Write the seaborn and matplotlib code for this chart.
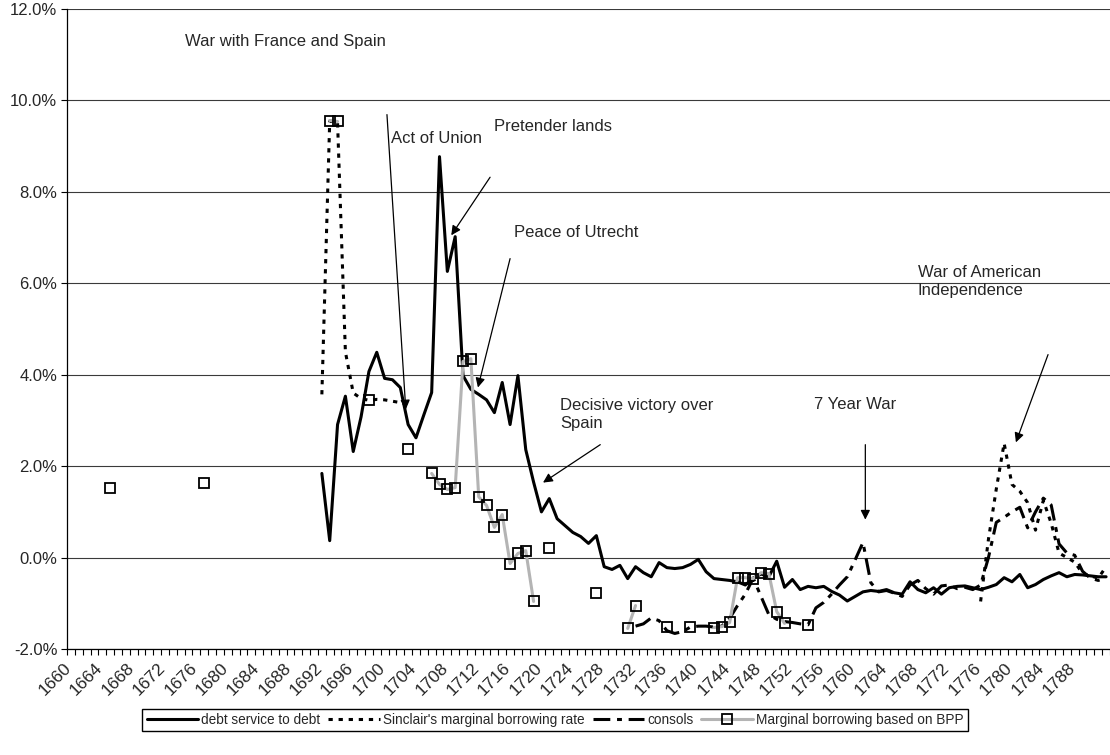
import numpy as np
import pandas as pd
import matplotlib
matplotlib.use("Agg")
import matplotlib.pyplot as plt
from matplotlib.lines import Line2D
from matplotlib.transforms import ScaledTranslation
import seaborn as sns

# category axis: one slot per year
years = np.arange(1660, 1793)
label_years = np.arange(1660, 1789, 4)

# debt service to debt (%), 1692-1792
debt_start = 1692
debt_service = [1.84, 0.37, 2.91, 3.53, 2.32, 3.08, 4.07, 4.49, 3.92, 3.89,
                3.72, 2.91, 2.62, 3.12, 3.61, 8.77, 6.26, 7.02, 3.98, 3.68,
                3.57, 3.45, 3.17, 3.83, 2.91, 3.98, 2.36, 1.65, 1.00, 1.29,
                0.85, 0.70, 0.55, 0.46, 0.31, 0.48, -0.20, -0.26, -0.17, -0.46,
                -0.20, -0.33, -0.42, -0.11, -0.22, -0.24, -0.22, -0.15, -0.04, -0.31,
                -0.46, -0.48, -0.50, -0.53, -0.60, -0.45, -0.36, -0.42, -0.08, -0.65,
                -0.48, -0.70, -0.63, -0.66, -0.63, -0.74, -0.82, -0.95, -0.85, -0.75,
                -0.72, -0.74, -0.70, -0.77, -0.80, -0.53, -0.70, -0.77, -0.66, -0.80,
                -0.66, -0.63, -0.62, -0.66, -0.70, -0.65, -0.59, -0.44, -0.53, -0.37,
                -0.66, -0.59, -0.48, -0.40, -0.33, -0.42, -0.37, -0.38, -0.40, -0.42,
                -0.42]

# Sinclair's marginal borrowing rate (%), two stretches
sinclair_early_start = 1692
sinclair_early = [3.57, 9.55, 9.52, 4.50, 3.60, 3.48, 3.44, 3.46, 3.45, 3.42, 3.39, 3.33]
sinclair_late_start = 1776
sinclair_late = [-0.96, 0.40, 1.50, 2.50, 1.60, 1.45, 1.20, 0.60, 1.25, 0.75,
                 0.10, 0.00, -0.10, -0.35, -0.40, -0.45, -0.20]

# consols (%), 1732-1792
consols_start = 1732
consols = [-1.50, -1.45, -1.32, -1.38, -1.60, -1.66, -1.62, -1.52, -1.50, -1.50,
           -1.52, -1.50, -1.33, -1.05, -0.80, -0.45, -0.85, -1.25, -1.35, -1.40,
           -1.42, -1.45, -1.47, -1.10, -0.98, -0.80, -0.60, -0.42, -0.05, 0.33,
           -0.55, -0.75, -0.72, -0.78, -0.85, -0.60, -0.50, -0.68, -0.80, -0.62,
           -0.60, -0.68, -0.65, -0.70, -0.60, 0.00, 0.77, 0.88, 1.00, 1.10,
           0.65, 1.00, 1.30, 1.15, 0.30, 0.10, 0.05, -0.30, -0.45, -0.50,
           -0.45]

# marginal borrowing based on BPP (%)
bpp_years = [1665, 1677, 1693, 1694, 1698, 1703, 1706, 1707, 1708, 1709,
             1710, 1711, 1712, 1713, 1714, 1715, 1716, 1717, 1718, 1719,
             1721, 1727, 1731, 1732, 1736, 1739, 1742, 1743, 1744, 1745,
             1746, 1747, 1748, 1749, 1750, 1751, 1754]
bpp = [1.53, 1.64, 9.56, 9.54, 3.44, 2.38, 1.84, 1.60, 1.49, 1.53,
       4.29, 4.35, 1.33, 1.14, 0.66, 0.94, -0.13, 0.09, 0.15, -0.96,
       0.22, -0.77, -1.55, -1.05, -1.51, -1.51, -1.53, -1.51, -1.42, -0.44,
       -0.44, -0.46, -0.33, -0.35, -1.18, -1.44, -1.47]

legend_labels = ["debt service to debt", "Sinclair's marginal borrowing rate",
                 "consols", "Marginal borrowing based on BPP"]

notes = [
    ("War with France and Spain", 1674.55, 11.29),
    ("Act of Union", 1700.8, 9.17),
    ("Pretender lands", 1714.0, 9.43),
    ("Peace of Utrecht", 1716.5, 7.11),
    ("Decisive victory over\nSpain", 1722.4, 3.13),
    ("7 Year War", 1754.8, 3.35),
    ("War of American\nIndependence", 1768.0, 6.05),
]
# (tail, head) of the arrows
arrows = [
    ((1700.3, 9.69), (1702.7, 3.24)),
    ((1713.45, 8.32), (1708.5, 7.05)),
    ((1716.0, 6.54), (1711.9, 3.72)),
    ((1727.5, 2.47), (1720.2, 1.64)),
    ((1761.3, 2.47), (1761.3, 0.83)),
    ((1784.6, 4.44), (1780.5, 2.52)),
]


def on_years(start, vals):
    s = pd.Series(vals, index=np.arange(start, start + len(vals)), dtype=float)
    return s.reindex(years)


def draw_runs(ax, s, **kw):
    # draw each unbroken run of years separately so gaps stay open
    ok = s.notna()
    run_id = (ok != ok.shift()).cumsum()
    for _, part in s[ok].groupby(run_id[ok]):
        sns.lineplot(x=part.index, y=part.values, ax=ax, **kw)


debt = on_years(debt_start, debt_service)
sinclair = on_years(sinclair_early_start, sinclair_early).combine_first(
    on_years(sinclair_late_start, sinclair_late))
cons = on_years(consols_start, consols)
bpp_s = pd.Series(bpp, index=bpp_years, dtype=float).reindex(years)

sns.set_style("white")
plt.rcParams["font.family"] = ["Liberation Sans", "DejaVu Sans"]

fig = plt.figure(figsize=(11.1, 7.55), dpi=100)
ax = fig.add_axes([67 / 1110, 1 - 649 / 755, 1 - 67 / 1110, (649 - 9) / 755])

lw = 2.2
dot_style = (0, (1.4, 1.9))
dash_style = (0, (5.5, 2.2, 1.6, 2.2))
gray = "#b4b4b4"

draw_runs(ax, debt, color="black", lw=lw, zorder=4)
draw_runs(ax, sinclair, color="black", lw=lw, linestyle=dot_style, zorder=3)
draw_runs(ax, cons, color="black", lw=lw, linestyle=dash_style, zorder=3)
draw_runs(ax, bpp_s, color=gray, lw=lw, marker="s", markersize=7,
          markerfacecolor="none", markeredgecolor="black", markeredgewidth=1.3,
          zorder=5)

ax.set_xlim(1659.5, 1792.5)
ax.set_ylim(-2, 12)
yt = np.arange(-2, 12.1, 2)
ax.set_yticks(yt)
ax.set_yticklabels([f"{v:.1f}%" for v in yt], fontsize=12)
ax.set_xticks(label_years)
ax.set_xticklabels([str(y) for y in label_years], fontsize=12.5, rotation=45,
                   ha="right", va="center", rotation_mode="anchor")
ax.set_xticks(np.arange(1659.5, 1793, 1), minor=True)
ax.tick_params(axis="x", which="major", length=0, pad=12)
ax.tick_params(axis="x", which="minor", length=4, width=0.8, direction="out",
               color="black", bottom=True)
ax.tick_params(axis="y", length=4, width=0.8, direction="out", color="black",
               left=True, pad=3)
shift = ScaledTranslation(-1.5 / 72, 0, fig.dpi_scale_trans)
for t in ax.get_xticklabels():
    t.set_transform(t.get_transform() + shift)

ax.yaxis.grid(True, color="#3a3a3a", lw=0.8)
ax.xaxis.grid(False)
ax.set_axisbelow(True)
for side in ["top", "right"]:
    ax.spines[side].set_visible(False)
for side in ["left", "bottom"]:
    ax.spines[side].set_color("black")
    ax.spines[side].set_linewidth(0.9)
ax.set_xlabel("")
ax.set_ylabel("")

for text, x, y in notes:
    ax.text(x, y, text, fontsize=12, ha="left", va="center", linespacing=1.25)
for tail, head in arrows:
    ax.annotate("", xy=head, xytext=tail,
                arrowprops=dict(arrowstyle="-|>", color="black", lw=0.9,
                                mutation_scale=14, shrinkA=0, shrinkB=0))

handles = [
    Line2D([], [], color="black", lw=lw),
    Line2D([], [], color="black", lw=lw, linestyle=dot_style),
    Line2D([], [], color="black", lw=lw, linestyle=dash_style),
    Line2D([], [], color=gray, lw=lw, marker="s", markersize=7,
           markerfacecolor="none", markeredgecolor="black", markeredgewidth=1.3),
]
leg = fig.legend(handles, legend_labels, loc="upper center",
                 bbox_to_anchor=(0.5, 1 - 709 / 755), ncol=4, fontsize=9.8,
                 frameon=True, fancybox=False, edgecolor="black", framealpha=1,
                 handlelength=3.8, handletextpad=0.2, columnspacing=0.6,
                 borderpad=0.3, borderaxespad=0)
leg.get_frame().set_linewidth(1.0)

fig.savefig("out.png", dpi=100)
